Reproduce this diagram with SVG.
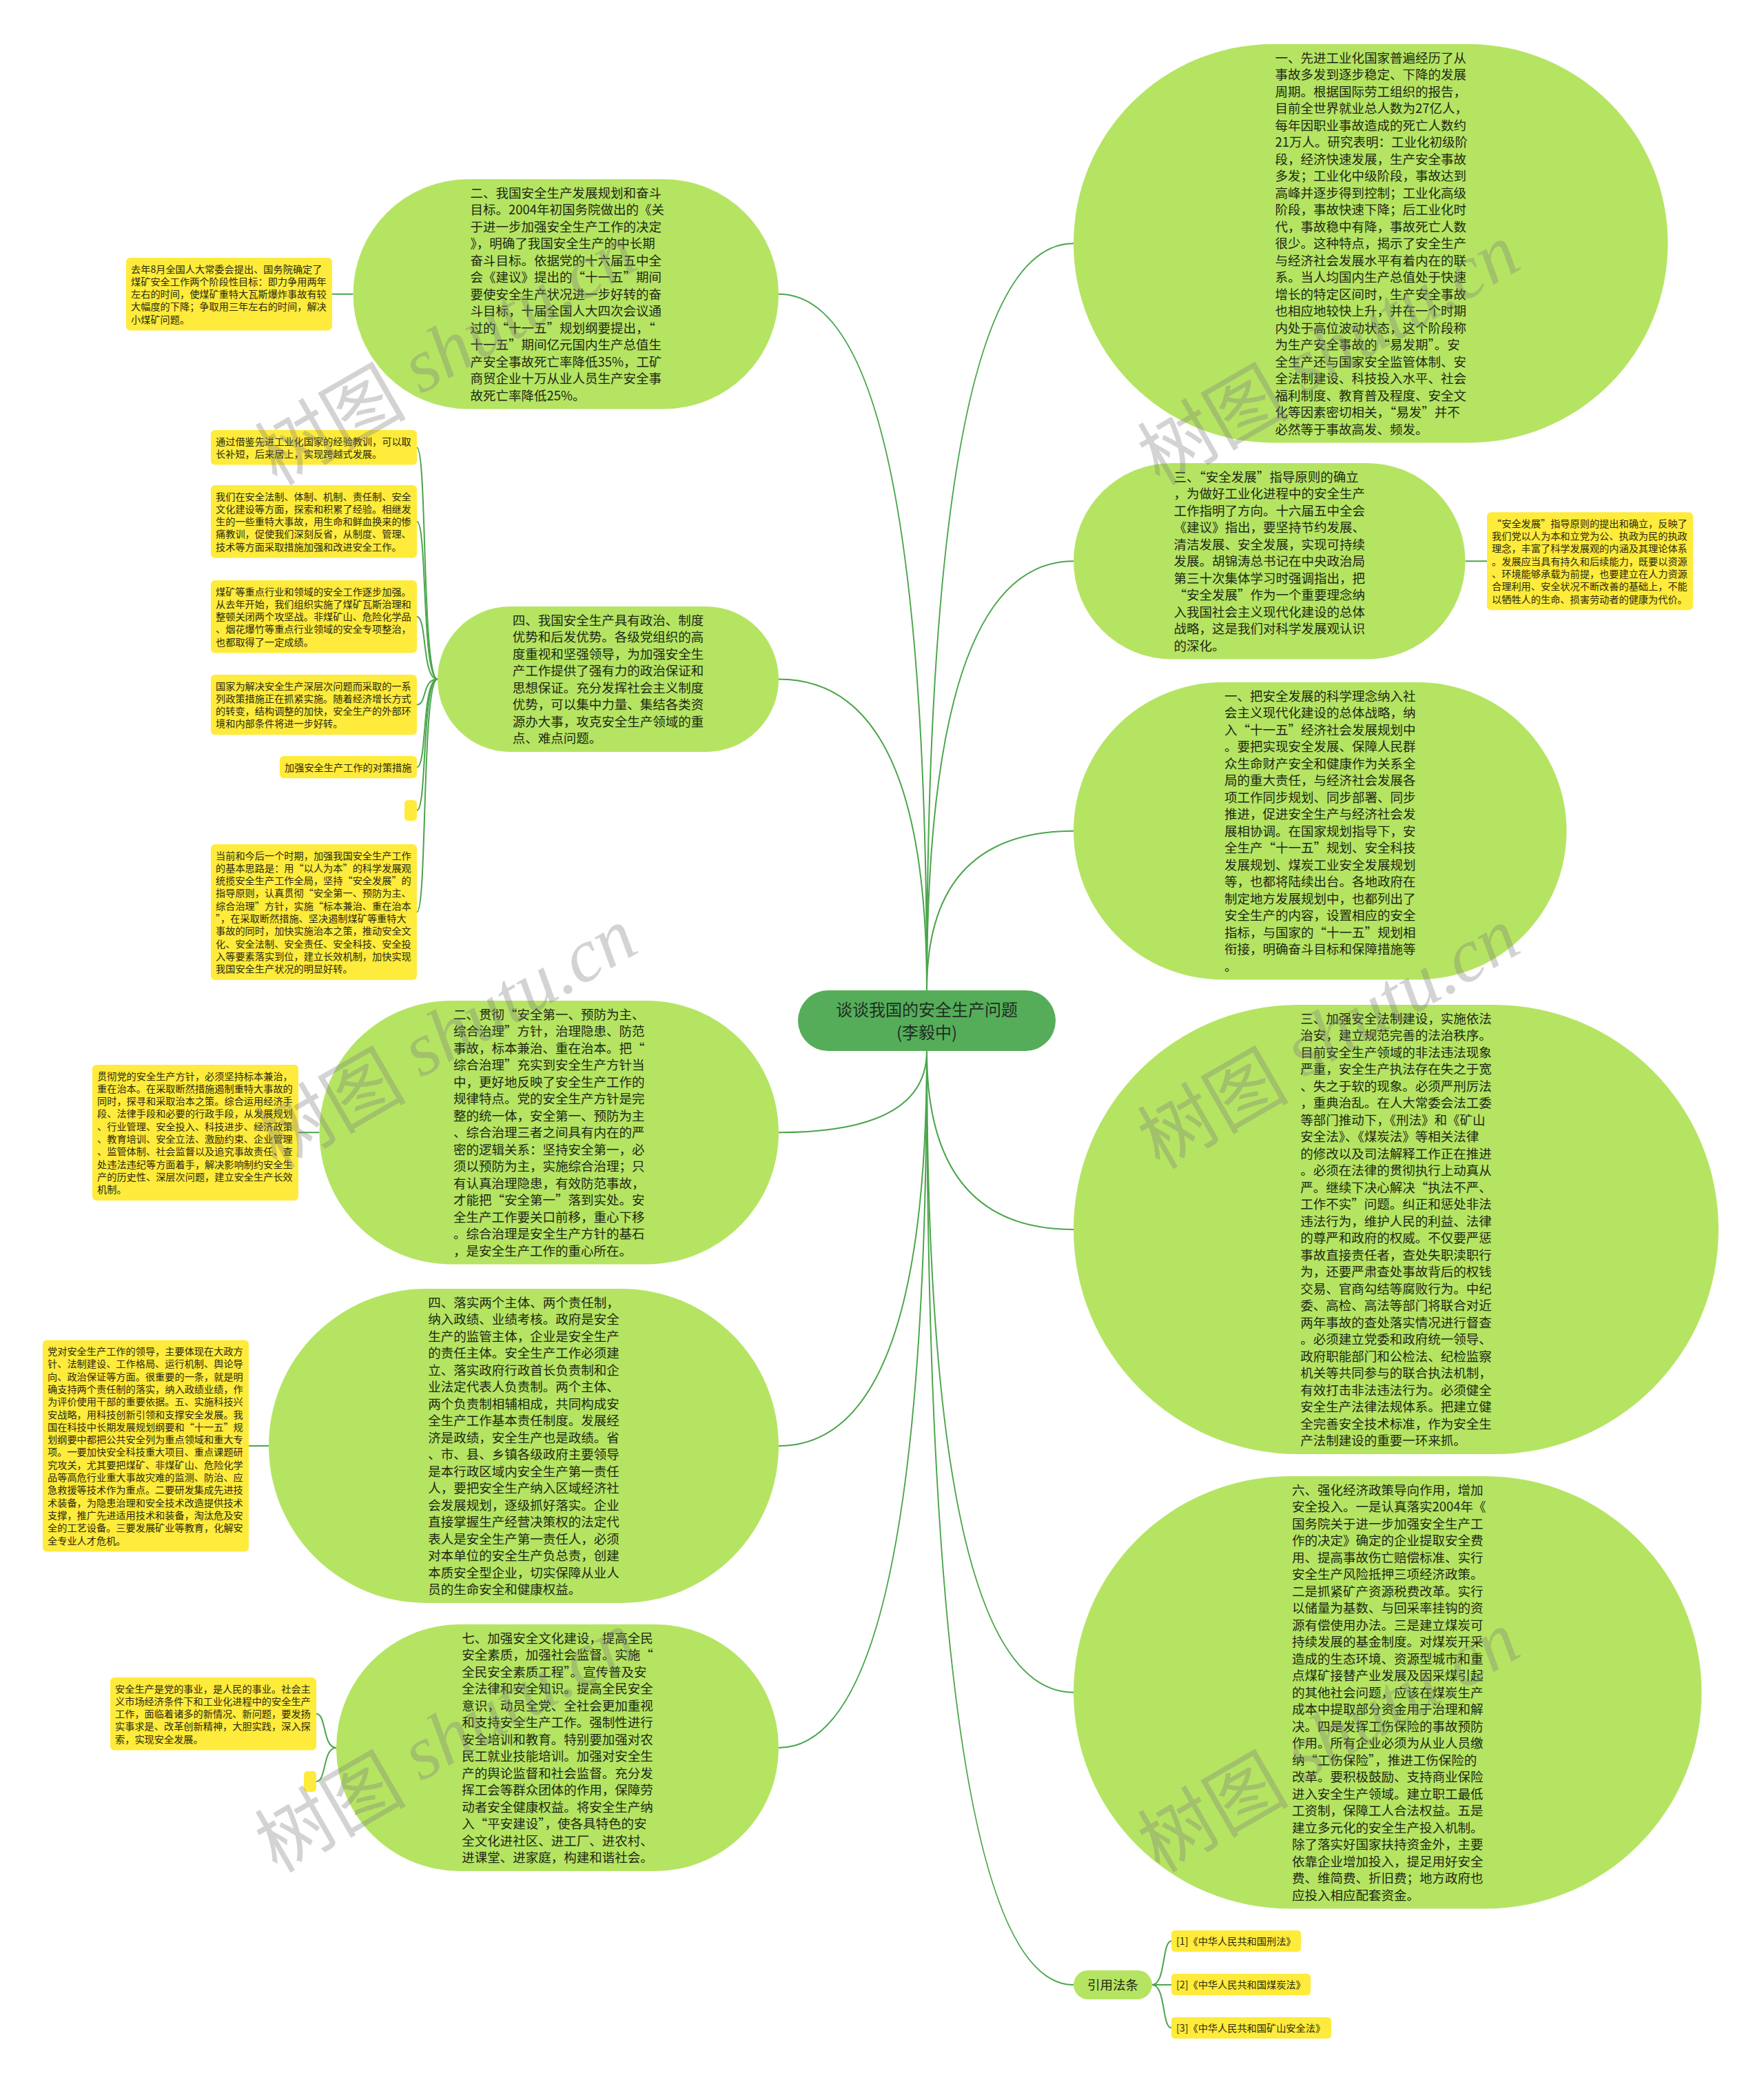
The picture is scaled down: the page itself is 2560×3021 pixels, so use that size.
<svg xmlns="http://www.w3.org/2000/svg" width="2560" height="3021" viewBox="0 0 2560 3021">
<style>
.bub{fill:#b5e463}
.note{fill:#ffeb3b}
.lk{fill:none;stroke:#4aa54a;stroke-width:2}
.t{font-family:"Noto Sans CJK SC","Noto Sans",sans-serif;font-size:18.5px;fill:#1d2814}
.nt{font-family:"Noto Sans CJK SC","Noto Sans",sans-serif;font-size:14.2px;fill:#2a2a10}
.ct{font-family:"Noto Sans CJK SC","Noto Sans",sans-serif;font-size:24px;fill:#1f2f1f}
.wm{font-family:"Noto Sans CJK SC",sans-serif;font-size:110px;fill:#7d7d7d;opacity:0.33}
.wl{font-family:"Liberation Serif",serif;font-style:italic}
</style>
<rect width="2560" height="3021" fill="#ffffff"/>

<g id="connectors">
<path class="lk" d="M1345 1437 Q1345 353.25 1558 353.25"/>
<path class="lk" d="M1345 1437 Q1345 814.25 1558 814.25"/>
<path class="lk" d="M1345 1437 Q1345 1205.75 1558 1205.75"/>
<path class="lk" d="M1345 1525 Q1345 1784 1558 1784"/>
<path class="lk" d="M1345 1525 Q1345 2455.75 1558 2455.75"/>
<path class="lk" d="M1345 1525 Q1345 2880 1558 2880"/>
<path class="lk" d="M1345 1437 Q1345 426.75 1130 426.75"/>
<path class="lk" d="M1345 1437 Q1345 985.5 1130 985.5"/>
<path class="lk" d="M1345 1525 Q1345 1643.25 1130 1643.25"/>
<path class="lk" d="M1345 1525 Q1345 2098 1130 2098"/>
<path class="lk" d="M1345 1525 Q1345 2536 1130 2536"/>
<path class="lk" d="M512.5 426.75 L482 426.75"/>
<path class="lk" d="M2126.5 814.25 L2158 814.25"/>
<path class="lk" d="M635 985.5 C612 985.5 620 649.3 605 649.3"/>
<path class="lk" d="M635 985.5 C612 985.5 620 756.75 605 756.75"/>
<path class="lk" d="M635 985.5 C612 985.5 620 894.75 605 894.75"/>
<path class="lk" d="M635 985.5 C612 985.5 620 1022.6 605 1022.6"/>
<path class="lk" d="M635 985.5 C612 985.5 620 1113.15 605 1113.15"/>
<path class="lk" d="M635 985.5 C612 985.5 620 1176 605 1176"/>
<path class="lk" d="M635 985.5 C612 985.5 620 1323.5 605 1323.5"/>
<path class="lk" d="M463.5 1643.25 L433 1643.25"/>
<path class="lk" d="M390 2098 L361 2098"/>
<path class="lk" d="M488 2536 C468 2536 474 2486.75 459 2486.75"/>
<path class="lk" d="M488 2536 C468 2536 474 2585 459 2585"/>
<path class="lk" d="M1672 2880 C1692 2880 1686 2816.5 1700 2816.5"/>
<path class="lk" d="M1672 2880 L1700 2880"/>
<path class="lk" d="M1672 2880 C1692 2880 1686 2942.5 1700 2942.5"/>
</g>

<g id="center">
<rect x="1158" y="1437" width="374" height="88" rx="44" fill="#55ad5a"/>
<text class="ct" text-anchor="middle"><tspan x="1345" y="1474">谈谈我国的安全生产问题</tspan><tspan x="1345" y="1507">(李毅中)</tspan></text>
</g>

<g id="r1">
<rect class="bub" x="1558" y="64" width="862.5" height="578.5" rx="289.25"/>
<text class="t"><tspan x="1850.5" y="90.75">一、先进工业化国家普遍经历了从</tspan><tspan x="1850.5" dy="24.5">事故多发到逐步稳定、下降的发展</tspan><tspan x="1850.5" dy="24.5">周期。根据国际劳工组织的报告，</tspan><tspan x="1850.5" dy="24.5">目前全世界就业总人数为27亿人，</tspan><tspan x="1850.5" dy="24.5">每年因职业事故造成的死亡人数约</tspan><tspan x="1850.5" dy="24.5">21万人。研究表明：工业化初级阶</tspan><tspan x="1850.5" dy="24.5">段，经济快速发展，生产安全事故</tspan><tspan x="1850.5" dy="24.5">多发；工业化中级阶段，事故达到</tspan><tspan x="1850.5" dy="24.5">高峰并逐步得到控制；工业化高级</tspan><tspan x="1850.5" dy="24.5">阶段，事故快速下降；后工业化时</tspan><tspan x="1850.5" dy="24.5">代，事故稳中有降，事故死亡人数</tspan><tspan x="1850.5" dy="24.5">很少。这种特点，揭示了安全生产</tspan><tspan x="1850.5" dy="24.5">与经济社会发展水平有着内在的联</tspan><tspan x="1850.5" dy="24.5">系。当人均国内生产总值处于快速</tspan><tspan x="1850.5" dy="24.5">增长的特定区间时，生产安全事故</tspan><tspan x="1850.5" dy="24.5">也相应地较快上升，并在一个时期</tspan><tspan x="1850.5" dy="24.5">内处于高位波动状态，这个阶段称</tspan><tspan x="1850.5" dy="24.5">为生产安全事故的“易发期”。安</tspan><tspan x="1850.5" dy="24.5">全生产还与国家安全监管体制、安</tspan><tspan x="1850.5" dy="24.5">全法制建设、科技投入水平、社会</tspan><tspan x="1850.5" dy="24.5">福利制度、教育普及程度、安全文</tspan><tspan x="1850.5" dy="24.5">化等因素密切相关，“易发”并不</tspan><tspan x="1850.5" dy="24.5">必然等于事故高发、频发。</tspan></text>
</g>

<g id="r2">
<rect class="bub" x="1558" y="672" width="568.5" height="284.5" rx="142.25"/>
<text class="t"><tspan x="1703.5" y="698.75">三、“安全发展”指导原则的确立</tspan><tspan x="1703.5" dy="24.5">，为做好工业化进程中的安全生产</tspan><tspan x="1703.5" dy="24.5">工作指明了方向。十六届五中全会</tspan><tspan x="1703.5" dy="24.5">《建议》指出，要坚持节约发展、</tspan><tspan x="1703.5" dy="24.5">清洁发展、安全发展，实现可持续</tspan><tspan x="1703.5" dy="24.5">发展。胡锦涛总书记在中央政治局</tspan><tspan x="1703.5" dy="24.5">第三十次集体学习时强调指出，把</tspan><tspan x="1703.5" dy="24.5">“安全发展”作为一个重要理念纳</tspan><tspan x="1703.5" dy="24.5">入我国社会主义现代化建设的总体</tspan><tspan x="1703.5" dy="24.5">战略，这是我们对科学发展观认识</tspan><tspan x="1703.5" dy="24.5">的深化。</tspan></text>
</g>

<g id="r2-note">
<rect class="note" x="2158" y="743.25" width="299" height="142" rx="6"/>
<text class="nt"><tspan x="2165" y="764.75">“安全发展”指导原则的提出和确立，反映了</tspan><tspan x="2165" dy="18.3">我们党以人为本和立党为公、执政为民的执政</tspan><tspan x="2165" dy="18.3">理念，丰富了科学发展观的内涵及其理论体系</tspan><tspan x="2165" dy="18.3">。发展应当具有持久和后续能力，既要以资源</tspan><tspan x="2165" dy="18.3">、环境能够承载为前提，也要建立在人力资源</tspan><tspan x="2165" dy="18.3">合理利用、安全状况不断改善的基础上，不能</tspan><tspan x="2165" dy="18.3">以牺牲人的生命、损害劳动者的健康为代价。</tspan></text>
</g>

<g id="r3">
<rect class="bub" x="1558" y="990" width="715.5" height="431.5" rx="215.75"/>
<text class="t"><tspan x="1777" y="1016.75">一、把安全发展的科学理念纳入社</tspan><tspan x="1777" dy="24.5">会主义现代化建设的总体战略，纳</tspan><tspan x="1777" dy="24.5">入“十一五”经济社会发展规划中</tspan><tspan x="1777" dy="24.5">。要把实现安全发展、保障人民群</tspan><tspan x="1777" dy="24.5">众生命财产安全和健康作为关系全</tspan><tspan x="1777" dy="24.5">局的重大责任，与经济社会发展各</tspan><tspan x="1777" dy="24.5">项工作同步规划、同步部署、同步</tspan><tspan x="1777" dy="24.5">推进，促进安全生产与经济社会发</tspan><tspan x="1777" dy="24.5">展相协调。在国家规划指导下，安</tspan><tspan x="1777" dy="24.5">全生产“十一五”规划、安全科技</tspan><tspan x="1777" dy="24.5">发展规划、煤炭工业安全发展规划</tspan><tspan x="1777" dy="24.5">等，也都将陆续出台。各地政府在</tspan><tspan x="1777" dy="24.5">制定地方发展规划中，也都列出了</tspan><tspan x="1777" dy="24.5">安全生产的内容，设置相应的安全</tspan><tspan x="1777" dy="24.5">指标，与国家的“十一五”规划相</tspan><tspan x="1777" dy="24.5">衔接，明确奋斗目标和保障措施等</tspan><tspan x="1777" dy="24.5">。</tspan></text>
</g>

<g id="r4">
<rect class="bub" x="1558" y="1458" width="936" height="652" rx="326"/>
<text class="t"><tspan x="1887.25" y="1484.75">三、加强安全法制建设，实施依法</tspan><tspan x="1887.25" dy="24.5">治安，建立规范完善的法治秩序。</tspan><tspan x="1887.25" dy="24.5">目前安全生产领域的非法违法现象</tspan><tspan x="1887.25" dy="24.5">严重，安全生产执法存在失之于宽</tspan><tspan x="1887.25" dy="24.5">、失之于软的现象。必须严刑厉法</tspan><tspan x="1887.25" dy="24.5">，重典治乱。在人大常委会法工委</tspan><tspan x="1887.25" dy="24.5">等部门推动下，《刑法》和《矿山</tspan><tspan x="1887.25" dy="24.5">安全法》、《煤炭法》等相关法律</tspan><tspan x="1887.25" dy="24.5">的修改以及司法解释工作正在推进</tspan><tspan x="1887.25" dy="24.5">。必须在法律的贯彻执行上动真从</tspan><tspan x="1887.25" dy="24.5">严。继续下决心解决“执法不严、</tspan><tspan x="1887.25" dy="24.5">工作不实”问题。纠正和惩处非法</tspan><tspan x="1887.25" dy="24.5">违法行为，维护人民的利益、法律</tspan><tspan x="1887.25" dy="24.5">的尊严和政府的权威。不仅要严惩</tspan><tspan x="1887.25" dy="24.5">事故直接责任者，查处失职渎职行</tspan><tspan x="1887.25" dy="24.5">为，还要严肃查处事故背后的权钱</tspan><tspan x="1887.25" dy="24.5">交易、官商勾结等腐败行为。中纪</tspan><tspan x="1887.25" dy="24.5">委、高检、高法等部门将联合对近</tspan><tspan x="1887.25" dy="24.5">两年事故的查处落实情况进行督查</tspan><tspan x="1887.25" dy="24.5">。必须建立党委和政府统一领导、</tspan><tspan x="1887.25" dy="24.5">政府职能部门和公检法、纪检监察</tspan><tspan x="1887.25" dy="24.5">机关等共同参与的联合执法机制，</tspan><tspan x="1887.25" dy="24.5">有效打击非法违法行为。必须健全</tspan><tspan x="1887.25" dy="24.5">安全生产法律法规体系。把建立健</tspan><tspan x="1887.25" dy="24.5">全完善安全技术标准，作为安全生</tspan><tspan x="1887.25" dy="24.5">产法制建设的重要一环来抓。</tspan></text>
</g>

<g id="r5">
<rect class="bub" x="1558" y="2142" width="911.5" height="627.5" rx="313.75"/>
<text class="t"><tspan x="1875" y="2168.75">六、强化经济政策导向作用，增加</tspan><tspan x="1875" dy="24.5">安全投入。一是认真落实2004年《</tspan><tspan x="1875" dy="24.5">国务院关于进一步加强安全生产工</tspan><tspan x="1875" dy="24.5">作的决定》确定的企业提取安全费</tspan><tspan x="1875" dy="24.5">用、提高事故伤亡赔偿标准、实行</tspan><tspan x="1875" dy="24.5">安全生产风险抵押三项经济政策。</tspan><tspan x="1875" dy="24.5">二是抓紧矿产资源税费改革。实行</tspan><tspan x="1875" dy="24.5">以储量为基数、与回采率挂钩的资</tspan><tspan x="1875" dy="24.5">源有偿使用办法。三是建立煤炭可</tspan><tspan x="1875" dy="24.5">持续发展的基金制度。对煤炭开采</tspan><tspan x="1875" dy="24.5">造成的生态环境、资源型城市和重</tspan><tspan x="1875" dy="24.5">点煤矿接替产业发展及因采煤引起</tspan><tspan x="1875" dy="24.5">的其他社会问题，应该在煤炭生产</tspan><tspan x="1875" dy="24.5">成本中提取部分资金用于治理和解</tspan><tspan x="1875" dy="24.5">决。四是发挥工伤保险的事故预防</tspan><tspan x="1875" dy="24.5">作用。所有企业必须为从业人员缴</tspan><tspan x="1875" dy="24.5">纳“工伤保险”，推进工伤保险的</tspan><tspan x="1875" dy="24.5">改革。要积极鼓励、支持商业保险</tspan><tspan x="1875" dy="24.5">进入安全生产领域。建立职工最低</tspan><tspan x="1875" dy="24.5">工资制，保障工人合法权益。五是</tspan><tspan x="1875" dy="24.5">建立多元化的安全生产投入机制。</tspan><tspan x="1875" dy="24.5">除了落实好国家扶持资金外，主要</tspan><tspan x="1875" dy="24.5">依靠企业增加投入，提足用好安全</tspan><tspan x="1875" dy="24.5">费、维简费、折旧费；地方政府也</tspan><tspan x="1875" dy="24.5">应投入相应配套资金。</tspan></text>
</g>

<g id="refs">
<rect class="bub" x="1558" y="2859" width="114" height="42" rx="21"/>
<text class="t" text-anchor="middle" x="1615" y="2887">引用法条</text>
</g>
<g id="ref1">
<rect class="note" x="1700" y="2801" width="188" height="31" rx="5"/>
<text class="nt" x="1707" y="2822">[1]《中华人民共和国刑法》</text>
</g>
<g id="ref2">
<rect class="note" x="1700" y="2864" width="202" height="31" rx="5"/>
<text class="nt" x="1707" y="2885">[2]《中华人民共和国煤炭法》</text>
</g>
<g id="ref3">
<rect class="note" x="1700" y="2927" width="232" height="31" rx="5"/>
<text class="nt" x="1707" y="2948">[3]《中华人民共和国矿山安全法》</text>
</g>

<g id="l1">
<rect class="bub" x="512.5" y="260" width="617.5" height="333.5" rx="166.75"/>
<text class="t"><tspan x="682.5" y="286.75">二、我国安全生产发展规划和奋斗</tspan><tspan x="682.5" dy="24.5">目标。2004年初国务院做出的《关</tspan><tspan x="682.5" dy="24.5">于进一步加强安全生产工作的决定</tspan><tspan x="682.5" dy="24.5">》，明确了我国安全生产的中长期</tspan><tspan x="682.5" dy="24.5">奋斗目标。依据党的十六届五中全</tspan><tspan x="682.5" dy="24.5">会《建议》提出的“十一五”期间</tspan><tspan x="682.5" dy="24.5">要使安全生产状况进一步好转的奋</tspan><tspan x="682.5" dy="24.5">斗目标，十届全国人大四次会议通</tspan><tspan x="682.5" dy="24.5">过的“十一五”规划纲要提出，“</tspan><tspan x="682.5" dy="24.5">十一五”期间亿元国内生产总值生</tspan><tspan x="682.5" dy="24.5">产安全事故死亡率降低35%，工矿</tspan><tspan x="682.5" dy="24.5">商贸企业十万从业人员生产安全事</tspan><tspan x="682.5" dy="24.5">故死亡率降低25%。</tspan></text>
</g>
<g id="l1-note">
<rect class="note" x="183" y="374" width="299" height="105.5" rx="6"/>
<text class="nt"><tspan x="190" y="395.5">去年8月全国人大常委会提出、国务院确定了</tspan><tspan x="190" dy="18.3">煤矿安全工作两个阶段性目标：即力争用两年</tspan><tspan x="190" dy="18.3">左右的时间，使煤矿重特大瓦斯爆炸事故有较</tspan><tspan x="190" dy="18.3">大幅度的下降；争取用三年左右的时间，解决</tspan><tspan x="190" dy="18.3">小煤矿问题。</tspan></text>
</g>

<g id="l2">
<rect class="bub" x="635" y="880" width="495" height="211" rx="105.5"/>
<text class="t"><tspan x="743.75" y="906.75">四、我国安全生产具有政治、制度</tspan><tspan x="743.75" dy="24.5">优势和后发优势。各级党组织的高</tspan><tspan x="743.75" dy="24.5">度重视和坚强领导，为加强安全生</tspan><tspan x="743.75" dy="24.5">产工作提供了强有力的政治保证和</tspan><tspan x="743.75" dy="24.5">思想保证。充分发挥社会主义制度</tspan><tspan x="743.75" dy="24.5">优势，可以集中力量、集结各类资</tspan><tspan x="743.75" dy="24.5">源办大事，攻克安全生产领域的重</tspan><tspan x="743.75" dy="24.5">点、难点问题。</tspan></text>
</g>
<g id="l2-n1">
<rect class="note" x="306" y="624" width="299" height="50.6" rx="6"/>
<text class="nt"><tspan x="313" y="645.5">通过借鉴先进工业化国家的经验教训，可以取</tspan><tspan x="313" dy="18.3">长补短，后来居上，实现跨越式发展。</tspan></text>
</g>
<g id="l2-n2">
<rect class="note" x="306" y="704" width="299" height="105.5" rx="6"/>
<text class="nt"><tspan x="313" y="725.5">我们在安全法制、体制、机制、责任制、安全</tspan><tspan x="313" dy="18.3">文化建设等方面，探索和积累了经验。相继发</tspan><tspan x="313" dy="18.3">生的一些重特大事故，用生命和鲜血换来的惨</tspan><tspan x="313" dy="18.3">痛教训，促使我们深刻反省，从制度、管理、</tspan><tspan x="313" dy="18.3">技术等方面采取措施加强和改进安全工作。</tspan></text>
</g>
<g id="l2-n3">
<rect class="note" x="306" y="842" width="299" height="105.5" rx="6"/>
<text class="nt"><tspan x="313" y="863.5">煤矿等重点行业和领域的安全工作逐步加强。</tspan><tspan x="313" dy="18.3">从去年开始，我们组织实施了煤矿瓦斯治理和</tspan><tspan x="313" dy="18.3">整顿关闭两个攻坚战。非煤矿山、危险化学品</tspan><tspan x="313" dy="18.3">、烟花爆竹等重点行业领域的安全专项整治，</tspan><tspan x="313" dy="18.3">也都取得了一定成绩。</tspan></text>
</g>
<g id="l2-n4">
<rect class="note" x="306" y="979" width="299" height="87.2" rx="6"/>
<text class="nt"><tspan x="313" y="1000.5">国家为解决安全生产深层次问题而采取的一系</tspan><tspan x="313" dy="18.3">列政策措施正在抓紧实施。随着经济增长方式</tspan><tspan x="313" dy="18.3">的转变，结构调整的加快，安全生产的外部环</tspan><tspan x="313" dy="18.3">境和内部条件将进一步好转。</tspan></text>
</g>
<g id="l2-n5">
<rect class="note" x="406" y="1097" width="199" height="32.3" rx="6"/>
<text class="nt" x="413" y="1118.5">加强安全生产工作的对策措施</text>
</g>
<g id="l2-n6">
<rect class="note" x="587" y="1161" width="18" height="30" rx="5"/>
</g>
<g id="l2-n7">
<rect class="note" x="306" y="1225" width="299" height="197" rx="6"/>
<text class="nt"><tspan x="313" y="1246.5">当前和今后一个时期，加强我国安全生产工作</tspan><tspan x="313" dy="18.3">的基本思路是：用“以人为本”的科学发展观</tspan><tspan x="313" dy="18.3">统揽安全生产工作全局，坚持“安全发展”的</tspan><tspan x="313" dy="18.3">指导原则，认真贯彻“安全第一、预防为主、</tspan><tspan x="313" dy="18.3">综合治理”方针，实施“标本兼治、重在治本</tspan><tspan x="313" dy="18.3">”，在采取断然措施、坚决遏制煤矿等重特大</tspan><tspan x="313" dy="18.3">事故的同时，加快实施治本之策，推动安全文</tspan><tspan x="313" dy="18.3">化、安全法制、安全责任、安全科技、安全投</tspan><tspan x="313" dy="18.3">入等要素落实到位，建立长效机制，加快实现</tspan><tspan x="313" dy="18.3">我国安全生产状况的明显好转。</tspan></text>
</g>

<g id="l3">
<rect class="bub" x="463.5" y="1452" width="666.5" height="382.5" rx="191.25"/>
<text class="t"><tspan x="658" y="1478.75">二、贯彻“安全第一、预防为主、</tspan><tspan x="658" dy="24.5">综合治理”方针，治理隐患、防范</tspan><tspan x="658" dy="24.5">事故，标本兼治、重在治本。把“</tspan><tspan x="658" dy="24.5">综合治理”充实到安全生产方针当</tspan><tspan x="658" dy="24.5">中，更好地反映了安全生产工作的</tspan><tspan x="658" dy="24.5">规律特点。党的安全生产方针是完</tspan><tspan x="658" dy="24.5">整的统一体，安全第一、预防为主</tspan><tspan x="658" dy="24.5">、综合治理三者之间具有内在的严</tspan><tspan x="658" dy="24.5">密的逻辑关系：坚持安全第一，必</tspan><tspan x="658" dy="24.5">须以预防为主，实施综合治理；只</tspan><tspan x="658" dy="24.5">有认真治理隐患，有效防范事故，</tspan><tspan x="658" dy="24.5">才能把“安全第一”落到实处。安</tspan><tspan x="658" dy="24.5">全生产工作要关口前移，重心下移</tspan><tspan x="658" dy="24.5">。综合治理是安全生产方针的基石</tspan><tspan x="658" dy="24.5">，是安全生产工作的重心所在。</tspan></text>
</g>
<g id="l3-note">
<rect class="note" x="134" y="1545" width="299" height="197" rx="6"/>
<text class="nt"><tspan x="141" y="1566.5">贯彻党的安全生产方针，必须坚持标本兼治，</tspan><tspan x="141" dy="18.3">重在治本。在采取断然措施遏制重特大事故的</tspan><tspan x="141" dy="18.3">同时，探寻和采取治本之策。综合运用经济手</tspan><tspan x="141" dy="18.3">段、法律手段和必要的行政手段，从发展规划</tspan><tspan x="141" dy="18.3">、行业管理、安全投入、科技进步、经济政策</tspan><tspan x="141" dy="18.3">、教育培训、安全立法、激励约束、企业管理</tspan><tspan x="141" dy="18.3">、监管体制、社会监督以及追究事故责任、查</tspan><tspan x="141" dy="18.3">处违法违纪等方面着手，解决影响制约安全生</tspan><tspan x="141" dy="18.3">产的历史性、深层次问题，建立安全生产长效</tspan><tspan x="141" dy="18.3">机制。</tspan></text>
</g>

<g id="l4">
<rect class="bub" x="390" y="1870" width="740" height="456" rx="228"/>
<text class="t"><tspan x="621.25" y="1896.75">四、落实两个主体、两个责任制，</tspan><tspan x="621.25" dy="24.5">纳入政绩、业绩考核。政府是安全</tspan><tspan x="621.25" dy="24.5">生产的监管主体，企业是安全生产</tspan><tspan x="621.25" dy="24.5">的责任主体。安全生产工作必须建</tspan><tspan x="621.25" dy="24.5">立、落实政府行政首长负责制和企</tspan><tspan x="621.25" dy="24.5">业法定代表人负责制。两个主体、</tspan><tspan x="621.25" dy="24.5">两个负责制相辅相成，共同构成安</tspan><tspan x="621.25" dy="24.5">全生产工作基本责任制度。发展经</tspan><tspan x="621.25" dy="24.5">济是政绩，安全生产也是政绩。省</tspan><tspan x="621.25" dy="24.5">、市、县、乡镇各级政府主要领导</tspan><tspan x="621.25" dy="24.5">是本行政区域内安全生产第一责任</tspan><tspan x="621.25" dy="24.5">人，要把安全生产纳入区域经济社</tspan><tspan x="621.25" dy="24.5">会发展规划，逐级抓好落实。企业</tspan><tspan x="621.25" dy="24.5">直接掌握生产经营决策权的法定代</tspan><tspan x="621.25" dy="24.5">表人是安全生产第一责任人，必须</tspan><tspan x="621.25" dy="24.5">对本单位的安全生产负总责，创建</tspan><tspan x="621.25" dy="24.5">本质安全型企业，切实保障从业人</tspan><tspan x="621.25" dy="24.5">员的生命安全和健康权益。</tspan></text>
</g>
<g id="l4-note">
<rect class="note" x="62" y="1944.5" width="299" height="307" rx="6"/>
<text class="nt"><tspan x="69" y="1966">党对安全生产工作的领导，主要体现在大政方</tspan><tspan x="69" dy="18.3">针、法制建设、工作格局、运行机制、舆论导</tspan><tspan x="69" dy="18.3">向、政治保证等方面。很重要的一条，就是明</tspan><tspan x="69" dy="18.3">确支持两个责任制的落实，纳入政绩业绩，作</tspan><tspan x="69" dy="18.3">为评价使用干部的重要依据。五、实施科技兴</tspan><tspan x="69" dy="18.3">安战略，用科技创新引领和支撑安全发展。我</tspan><tspan x="69" dy="18.3">国在科技中长期发展规划纲要和“十一五”规</tspan><tspan x="69" dy="18.3">划纲要中都把公共安全列为重点领域和重大专</tspan><tspan x="69" dy="18.3">项。一要加快安全科技重大项目、重点课题研</tspan><tspan x="69" dy="18.3">究攻关，尤其要把煤矿、非煤矿山、危险化学</tspan><tspan x="69" dy="18.3">品等高危行业重大事故灾难的监测、防治、应</tspan><tspan x="69" dy="18.3">急救援等技术作为重点。二要研发集成先进技</tspan><tspan x="69" dy="18.3">术装备，为隐患治理和安全技术改造提供技术</tspan><tspan x="69" dy="18.3">支撑，推广先进适用技术和装备，淘汰危及安</tspan><tspan x="69" dy="18.3">全的工艺设备。三要发展矿业等教育，化解安</tspan><tspan x="69" dy="18.3">全专业人才危机。</tspan></text>
</g>

<g id="l5">
<rect class="bub" x="488" y="2357" width="642" height="358" rx="179"/>
<text class="t"><tspan x="670.25" y="2383.75">七、加强安全文化建设，提高全民</tspan><tspan x="670.25" dy="24.5">安全素质，加强社会监督。实施“</tspan><tspan x="670.25" dy="24.5">全民安全素质工程”。宣传普及安</tspan><tspan x="670.25" dy="24.5">全法律和安全知识。提高全民安全</tspan><tspan x="670.25" dy="24.5">意识，动员全党、全社会更加重视</tspan><tspan x="670.25" dy="24.5">和支持安全生产工作。强制性进行</tspan><tspan x="670.25" dy="24.5">安全培训和教育。特别要加强对农</tspan><tspan x="670.25" dy="24.5">民工就业技能培训。加强对安全生</tspan><tspan x="670.25" dy="24.5">产的舆论监督和社会监督。充分发</tspan><tspan x="670.25" dy="24.5">挥工会等群众团体的作用，保障劳</tspan><tspan x="670.25" dy="24.5">动者安全健康权益。将安全生产纳</tspan><tspan x="670.25" dy="24.5">入“平安建设”，使各具特色的安</tspan><tspan x="670.25" dy="24.5">全文化进社区、进工厂、进农村、</tspan><tspan x="670.25" dy="24.5">进课堂、进家庭，构建和谐社会。</tspan></text>
</g>
<g id="l5-note">
<rect class="note" x="160" y="2434" width="299" height="105.5" rx="6"/>
<text class="nt"><tspan x="167" y="2455.5">安全生产是党的事业，是人民的事业。社会主</tspan><tspan x="167" dy="18.3">义市场经济条件下和工业化进程中的安全生产</tspan><tspan x="167" dy="18.3">工作，面临着诸多的新情况、新问题，要发扬</tspan><tspan x="167" dy="18.3">实事求是、改革创新精神，大胆实践，深入探</tspan><tspan x="167" dy="18.3">索，实现安全发展。</tspan></text>
</g>
<g id="l5-n2">
<rect class="note" x="441" y="2570" width="18" height="30" rx="5"/>
</g>

<g id="watermarks">
<text class="wm" transform="translate(645,510) rotate(-30)" text-anchor="middle" dominant-baseline="central">树图<tspan class="wl"> shutu.cn</tspan></text>
<text class="wm" transform="translate(1926,510) rotate(-30)" text-anchor="middle" dominant-baseline="central">树图<tspan class="wl"> shutu.cn</tspan></text>
<text class="wm" transform="translate(645,1502) rotate(-30)" text-anchor="middle" dominant-baseline="central">树图<tspan class="wl"> shutu.cn</tspan></text>
<text class="wm" transform="translate(1926,1502) rotate(-30)" text-anchor="middle" dominant-baseline="central">树图<tspan class="wl"> shutu.cn</tspan></text>
<text class="wm" transform="translate(645,2523) rotate(-30)" text-anchor="middle" dominant-baseline="central">树图<tspan class="wl"> shutu.cn</tspan></text>
<text class="wm" transform="translate(1926,2523) rotate(-30)" text-anchor="middle" dominant-baseline="central">树图<tspan class="wl"> shutu.cn</tspan></text>
</g>
</svg>
